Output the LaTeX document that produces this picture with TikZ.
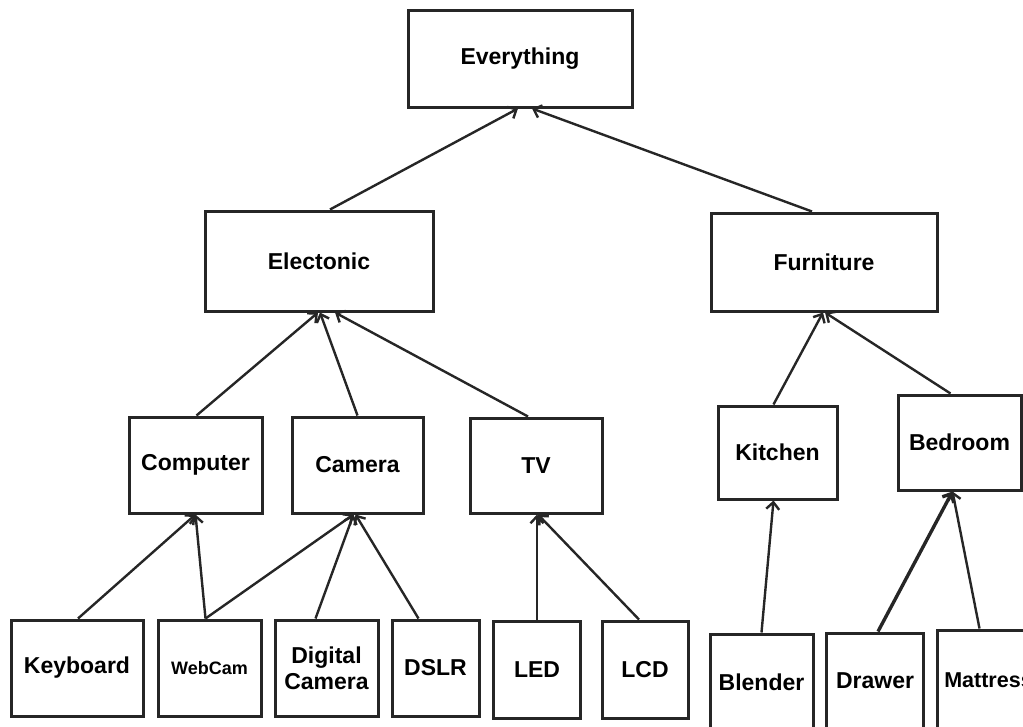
\documentclass[tikz,border=0pt]{standalone}
\usepackage{fontspec}
\setmainfont{Liberation Sans}
\usetikzlibrary{arrows.meta}

\begin{document}
\begin{tikzpicture}[x=1pt, y=-1pt,
	every node/.style={font=\fontsize{23}{26}\selectfont\bfseries},
	box/.style={draw=black!85, line width=3pt, align=center, inner sep=0pt},
	isa/.style={draw=black!85, line width=2.4pt, -{Straight Barb[length=7pt,width=13pt]}}]
	\useasboundingbox (0,0) rectangle (1023,726);
	% root
	\node[box, minimum width=224pt, minimum height=97pt] (every) at (520,58.5) {Everything};
	% second level
	\node[box, minimum width=228pt, minimum height=100pt] (elec) at (319,261) {Electonic};
	\node[box, minimum width=226pt, minimum height=98pt] (furn) at (824,262) {Furniture};
	% third level
	\node[box, minimum width=133pt, minimum height=96pt] (comp) at (195.5,465) {Computer};
	\node[box, minimum width=131pt, minimum height=96pt] (cam) at (357.5,465) {Camera};
	\node[box, minimum width=132pt, minimum height=95pt] (tv) at (536,465.5) {TV};
	\node[box, minimum width=119pt, minimum height=93pt] (kitch) at (777.5,452.5) {Kitchen};
	\node[box, minimum width=123pt, minimum height=95pt] (bed) at (959.5,442.5) {Bedroom};
	% leaves
	\node[box, minimum width=132pt, minimum height=96pt] (keyb) at (77,668) {Keyboard};
	\node[box, minimum width=103pt, minimum height=96pt, font=\fontsize{18}{21}\selectfont\bfseries] (webcam) at (209.5,668) {WebCam};
	\node[box, minimum width=103pt, minimum height=96pt] (digcam) at (326.5,668) {Digital\\Camera};
	\node[box, minimum width=87pt, minimum height=96pt] (dslr) at (435.5,668) {DSLR};
	\node[box, minimum width=87pt, minimum height=97pt] (led) at (537,669.5) {LED};
	\node[box, minimum width=86pt, minimum height=97pt] (lcd) at (645,669.5) {LCD};
	\node[box, minimum width=103pt, minimum height=96pt] (blend) at (761.5,682) {Blender};
	\node[box, minimum width=97pt, minimum height=96pt] (drawer) at (875,681) {Drawer};
	\node[box, minimum width=103pt, minimum height=100pt, font=\fontsize{21.5}{24}\selectfont\bfseries] (mattr) at (988.5,680) {Mattress};
	% links up to the parent
	\draw[isa] ([xshift=11pt]elec.north) -- ([xshift=-2pt]every.south);
	\draw[isa] ([xshift=-12pt]furn.north) -- ([xshift=12pt]every.south);
	\draw[isa] ([xshift=1pt]comp.north) -- ([xshift=-1pt]elec.south);
	\draw[isa] (cam.north) -- ([xshift=1pt]elec.south);
	\draw[isa] ([xshift=-8pt]tv.north) -- ([xshift=16pt]elec.south);
	\draw[isa] ([xshift=-4pt]kitch.north) -- ([xshift=-1pt]furn.south);
	\draw[isa] ([xshift=-9pt]bed.north) -- ([xshift=1pt]furn.south);
	\draw[isa] ([xshift=1pt]keyb.north) -- (comp.south);
	\draw[isa] ([xshift=-4pt]webcam.north) -- (comp.south);
	\draw[isa] ([xshift=-4pt]webcam.north) -- ([xshift=-4pt]cam.south);
	\draw[isa] ([xshift=-11pt]digcam.north) -- ([xshift=-4pt]cam.south);
	\draw[isa] ([xshift=-17pt]dslr.north) -- ([xshift=-2pt]cam.south);
	\draw[isa] (led.north) -- ([xshift=1pt]tv.south);
	\draw[isa] ([xshift=-6pt]lcd.north) -- ([xshift=2pt]tv.south);
	\draw[isa] (blend.north) -- ([xshift=-4pt]kitch.south);
	\draw[isa, line width=3.4pt] ([xshift=3pt]drawer.north) -- ([xshift=-7pt]bed.south);
	\draw[isa] ([xshift=-9pt]mattr.north) -- ([xshift=-7pt]bed.south);
\end{tikzpicture}
\end{document}
